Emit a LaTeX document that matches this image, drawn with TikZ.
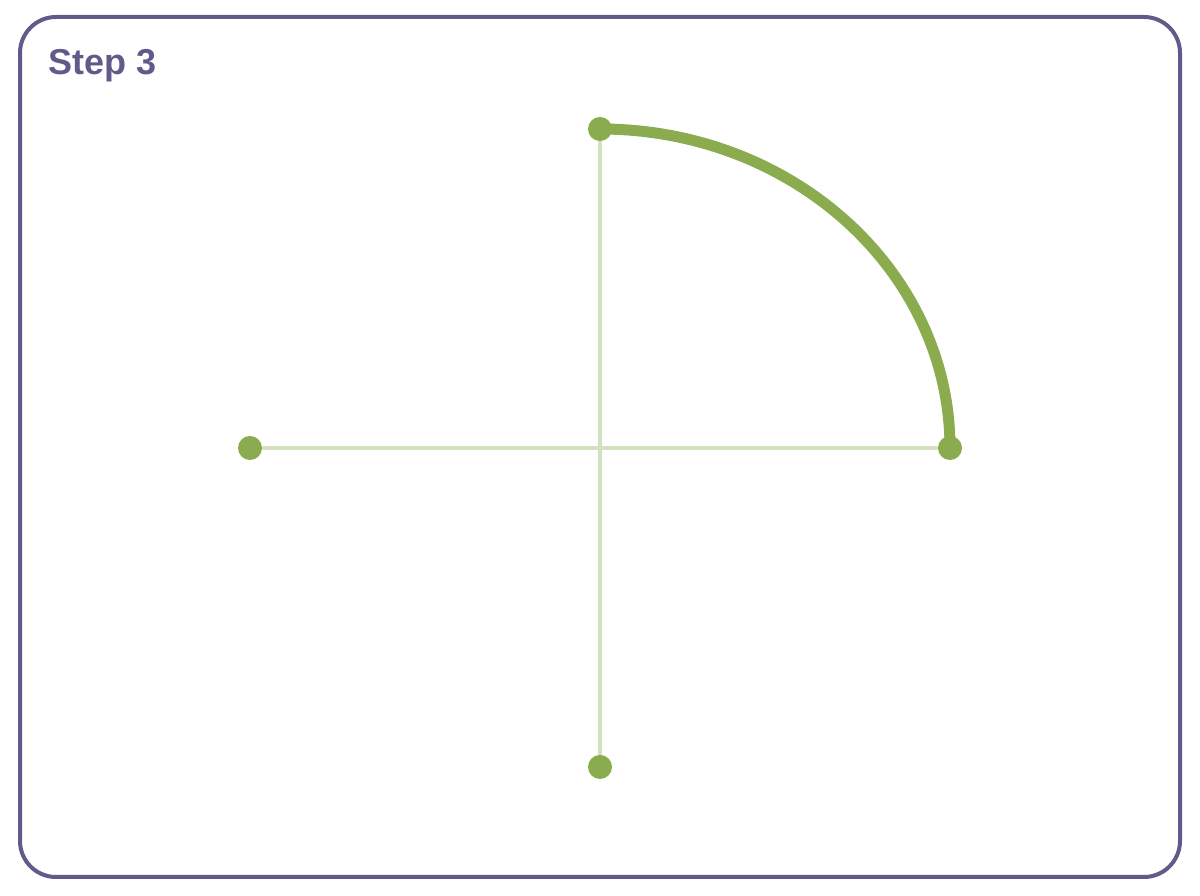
\documentclass[tikz,border=0pt]{standalone}
\usepackage{fontspec}
\setmainfont{Liberation Sans}
\definecolor{framec}{HTML}{625A8A}
\definecolor{dotc}{HTML}{8BAB4F}
\definecolor{lightc}{HTML}{D3E2BE}
\tikzset{
  dotnode/.style={circle,fill=dotc,inner sep=0pt,minimum size=24pt},
  axisline/.style={draw=lightc,line width=4pt},
  arcline/.style={draw=dotc,line width=11pt},
  frameline/.style={draw=framec,line width=4pt,rounded corners=36pt}
}
\begin{document}
\begin{tikzpicture}[x=1pt,y=1pt]
\useasboundingbox (0,0) rectangle (1200,896);
\draw[frameline] (20,19) rectangle (1180,879);
\node[anchor=base west,inner sep=0pt,text=framec,font=\fontsize{36}{40}\selectfont\bfseries] (title) at (48,821) {Step 3};
\coordinate (ctr) at (600,448);
\coordinate (L) at (250,448);
\coordinate (R) at (950,448);
\coordinate (T) at (600,767);
\coordinate (B) at (600,129);
\draw[axisline] (L) -- (R);
\draw[axisline] (T) -- (B);
\draw[arcline] (T) arc[start angle=90,end angle=0,x radius=350,y radius=319];
\node[dotnode] (dL) at (L) {};
\node[dotnode] (dR) at (R) {};
\node[dotnode] (dT) at (T) {};
\node[dotnode] (dB) at (B) {};
\end{tikzpicture}
\end{document}
